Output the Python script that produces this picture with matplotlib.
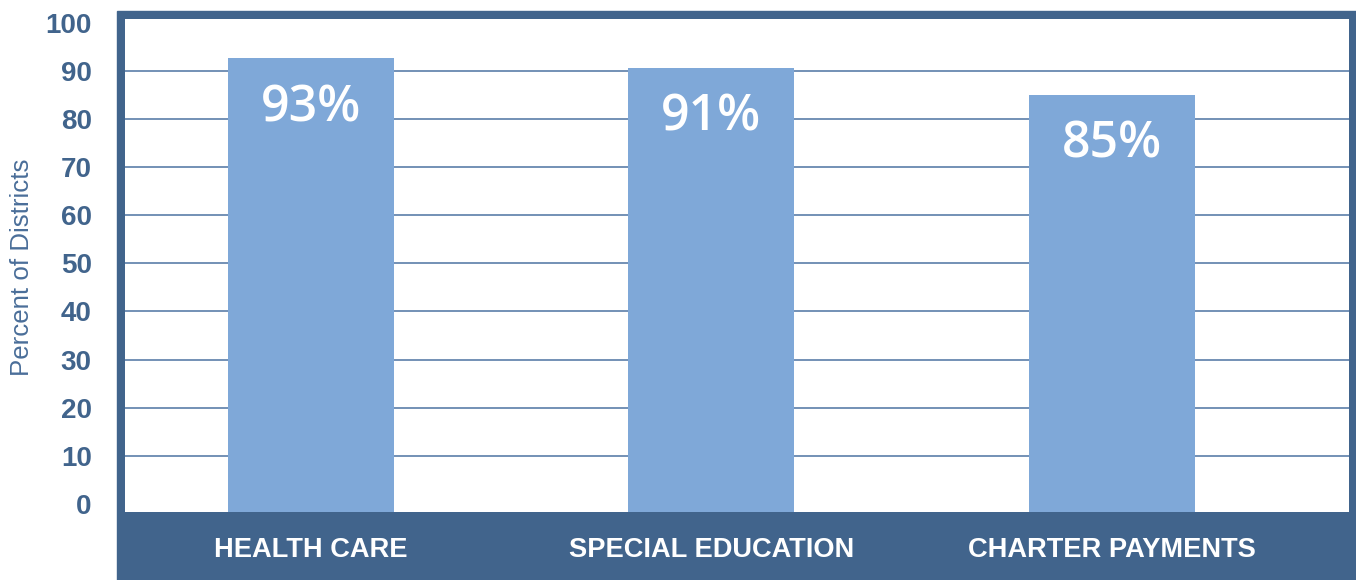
import matplotlib
matplotlib.use("Agg")
import matplotlib.pyplot as plt
from matplotlib.patches import Rectangle
from matplotlib.transforms import blended_transform_factory

categories = ["HEALTH CARE", "SPECIAL EDUCATION", "CHARTER PAYMENTS"]
values = [92.6, 90.7, 85.0]
value_labels = ["93%", "91%", "85%"]
yticks = [0, 10, 20, 30, 40, 50, 60, 70, 80, 90, 100]

dark = "#41648c"
bar_col = "#7fa8d8"
grid_col = "#7391b6"

W, H = 1356, 580
fig = plt.figure(figsize=(W / 100, H / 100), dpi=100)
fig.patch.set_facecolor("white")

# dark frame + bottom band behind the axes
fig.patches.append(Rectangle((117 / W, 0), (W - 117) / W, (H - 11) / H,
                             transform=fig.transFigure, color=dark, zorder=0))

ax = fig.add_axes([125 / W, (H - 512) / H, (1349 - 125) / W, (512 - 19) / H])
ax.set_facecolor("white")
ax.set_zorder(1)
for s in ax.spines.values():
    s.set_visible(False)

ylo, yhi = -1.7, 100.8
ax.set_ylim(ylo, yhi)
ax.set_xlim(-0.464, 2.592)

# gridlines (only the inner ones show in the original)
for t in yticks[1:-1]:
    ax.axhline(t, color=grid_col, lw=1.4, zorder=1)

x = list(range(len(categories)))
ax.bar(x, [v - ylo for v in values], bottom=ylo, width=0.414, color=bar_col, zorder=2)

for xi, v, lab in zip(x, values, value_labels):
    ax.annotate(lab, (xi, v), xytext=(0, -50), textcoords="offset pixels",
                ha="center", va="center", color="white", fontsize=36,
                family="Open Sans", fontweight="semibold", zorder=3)

ax.set_yticks(yticks)
ax.set_yticklabels([str(t) for t in yticks], fontsize=20, fontweight="bold",
                   color=dark, family="Liberation Sans")
ax.tick_params(axis="y", length=0, pad=24)

ax.set_xticks([])
tr = blended_transform_factory(ax.transData, ax.transAxes)
for xi, c in zip(x, categories):
    ax.text(xi, -38 / 493, c, transform=tr, ha="center", va="center",
            color="white", fontsize=19.6, fontweight="bold",
            family="Liberation Sans", clip_on=False)

fig.text(22 / W, 1 - 267 / H, "Percent of Districts", rotation=90,
         ha="center", va="center", fontsize=18.6, color="#4a6e99",
         family="Liberation Sans")

fig.savefig("out.png", dpi=100)
